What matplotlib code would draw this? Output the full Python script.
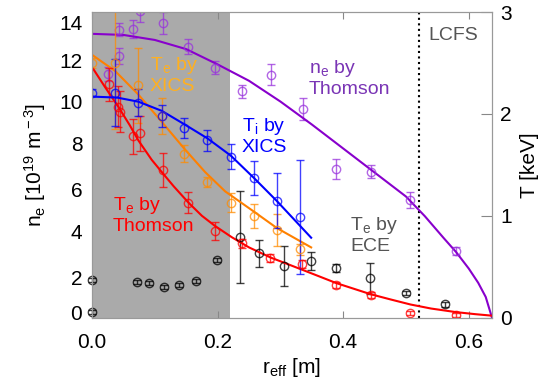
import matplotlib
matplotlib.use('Agg')
import matplotlib.pyplot as plt

plt.rcParams['font.family'] = ['Liberation Sans', 'DejaVu Sans']
plt.rcParams['mathtext.fontset'] = 'custom'
plt.rcParams['mathtext.rm'] = 'Liberation Sans'
plt.rcParams['mathtext.it'] = 'Liberation Sans:italic'

# ---- data ----
# n_e by Thomson [1e19 m^-3]
ne_r = [0.025, 0.0435, 0.0435, 0.066, 0.0765, 0.1137, 0.1535, 0.196,
        0.2395, 0.2853, 0.3358, 0.389, 0.444, 0.507, 0.58]
ne_val = [11.16, 11.98, 13.18, 13.22, 14.05, 13.48, 12.41, 11.45,
          10.36, 11.12, 9.55, 6.81, 6.69, 5.39, 3.05]
ne_err = [0.3, 0.35, 0.3, 0.4, 0.5, 0.5, 0.35, 0.3,
          0.3, 0.48, 0.5, 0.46, 0.3, 0.38, 0.2]
ne_fit_r = [0.0, 0.05, 0.1, 0.15, 0.2, 0.25, 0.3, 0.35, 0.4, 0.45,
            0.5, 0.53, 0.56, 0.58, 0.6, 0.615, 0.627, 0.637]
ne_fit = [13.0, 12.95, 12.72, 12.3, 11.6, 10.85, 9.9, 8.85, 7.75, 6.65,
          5.55, 4.65, 3.65, 3.0, 2.25, 1.6, 0.95, 0.0]

# T_e by Thomson [keV]
tet_r = [0.0276, 0.0419, 0.0446, 0.0659, 0.0765, 0.1137, 0.1535, 0.196,
         0.2385, 0.284, 0.335, 0.389, 0.444, 0.507, 0.58]
tet_val = [2.29, 2.07, 2.02, 1.78, 1.81, 1.45, 1.13, 0.854,
           0.73, 0.583, 0.527, 0.32, 0.223, 0.05, 0.027]
tet_err = [0.16, 0.2, 0.2, 0.17, 0.17, 0.17, 0.1, 0.09,
           0.045, 0.04, 0.04, 0.03, 0.03, 0.02, 0.02]
tet_fit_r = [0.0, 0.02, 0.0419, 0.06, 0.0738, 0.095, 0.1137, 0.13, 0.1535,
             0.175, 0.196, 0.2226, 0.25, 0.2847, 0.31, 0.3351, 0.36, 0.3889,
             0.4441, 0.475, 0.507, 0.54, 0.5796, 0.61, 0.637]
tet_fit = [2.46, 2.27, 2.07, 1.89, 1.74, 1.55, 1.41, 1.29, 1.13,
           1.0, 0.9, 0.79, 0.69, 0.59, 0.53, 0.47, 0.41, 0.34,
           0.23, 0.18, 0.13, 0.09, 0.055, 0.035, 0.02]

# T_e by XICS [keV]
tex_r = [0.0, 0.037, 0.0728, 0.111, 0.1466, 0.1838, 0.221, 0.258, 0.294, 0.3315]
tex_val = [2.50, 2.50, 2.28, 1.98, 1.61, 1.33, 1.13, 1.0, 0.86, 0.67]
tex_err = [0.05, 0.65, 0.37, 0.18, 0.08, 0.05, 0.09, 0.12, 0.16, 0.05]
tex_fit_r = [0.0, 0.037, 0.0738, 0.11, 0.1482, 0.18, 0.212, 0.2581, 0.2944, 0.349]
tex_fit = [2.58, 2.42, 2.19, 1.93, 1.65, 1.43, 1.24, 1.04, 0.88, 0.69]

# T_i by XICS [keV]
ti_r = [0.0, 0.0367, 0.0738, 0.111, 0.1466, 0.1838, 0.221, 0.258, 0.294, 0.3315]
ti_val = [2.21, 2.21, 2.11, 1.98, 1.86, 1.74, 1.58, 1.37, 1.15, 0.99]
ti_err = [0.03, 0.33, 0.13, 0.11, 0.1, 0.1, 0.12, 0.17, 0.27, 0.56]
ti_fit_r = [0.0, 0.04, 0.0738, 0.1111, 0.1466, 0.1838, 0.2211, 0.2581, 0.2944, 0.349]
ti_fit = [2.17, 2.16, 2.12, 2.03, 1.9, 1.76, 1.59, 1.37, 1.145, 0.785]

# T_e by ECE [keV]
ece_r = [0.0, 0.0, 0.072, 0.0913, 0.1154, 0.139, 0.165, 0.1997,
         0.235, 0.2667, 0.3065, 0.3485, 0.389, 0.442, 0.5, 0.5625]
ece_val = [0.37, 0.053, 0.35, 0.343, 0.304, 0.32, 0.36, 0.566,
           0.79, 0.632, 0.507, 0.556, 0.485, 0.387, 0.24, 0.13]
ece_err = [0.02, 0.02, 0.02, 0.02, 0.02, 0.02, 0.02, 0.02,
           0.45, 0.13, 0.2, 0.09, 0.04, 0.15, 0.02, 0.02]

r_xics = 0.22
r_lcfs = 0.52

# left-axis labels as they sit in the picture
ne_tick_pos = [0.26, 1.82, 3.94, 5.86, 8.0, 9.88, 11.76, 13.54]
ne_tick_lab = ['0', '2', '4', '6', '8', '10', '12', '14']

fig = plt.figure(figsize=(5.53, 3.81), dpi=100)
ax = fig.add_axes([0.1664, 0.1661, 0.7233, 0.8024])
ax2 = ax.twinx()

ax.axvspan(0, r_xics, color='#aaaaaa', lw=0, zorder=0)
ax.axvline(r_lcfs, color='black', ls=':', lw=1.5)

ebkw = dict(fmt='o', mfc='none', ms=6, capsize=3, elinewidth=1, mew=1, alpha=0.75)

ax.errorbar(ne_r, ne_val, yerr=ne_err, color='#9933dd', **ebkw)
ax.plot(ne_fit_r, ne_fit, color='#8800cc', lw=1.5)

ax2.errorbar(ece_r, ece_val, yerr=ece_err, color='black', clip_on=False, **ebkw)
ax2.errorbar(tex_r, tex_val, yerr=tex_err, color='#ff8c00', **ebkw)
ax2.plot(tex_fit_r, tex_fit, color='#ff8000', lw=1.5)
ax2.errorbar(tet_r, tet_val, yerr=tet_err, color='#ff0000', **ebkw)
ax2.plot(tet_fit_r, tet_fit, color='#ff0000', lw=1.5)
ax2.errorbar(ti_r, ti_val, yerr=ti_err, color='#0000ff', **ebkw)
ax2.plot(ti_fit_r, ti_fit, color='#0000ff', lw=1.5)

ax.set_xlim(0, 0.637)
ax.set_ylim(0, 14)
ax2.set_ylim(0, 3)

fs = 15
ax.set_xticks([0.0, 0.2, 0.4, 0.6])
ax.set_xticklabels(['0.0', '0.2', '0.4', '0.6'], fontsize=fs)
ax.set_yticks(ne_tick_pos)
ax.set_yticklabels(ne_tick_lab, fontsize=fs)
ax2.set_yticks([0, 1, 2, 3])
ax2.set_yticklabels(['0', '1', '2', '3'], fontsize=fs)

ax.tick_params(axis='x', direction='in', top=True, length=5, color='#888888', pad=11)
ax.tick_params(axis='y', length=0, pad=7)
ax2.tick_params(axis='y', direction='in', length=8, color='#888888', pad=6)
for a in (ax, ax2):
    for s in a.spines.values():
        s.set_color('#999999')

ax.set_xlabel(r'r$_{\rm eff}$ [m]', fontsize=fs, labelpad=3)
ax.set_ylabel(r'n$_{\rm e}$ [10$^{\rm 19}$ m$^{\rm -3}$]', fontsize=fs, labelpad=8)
ax2.set_ylabel('T [keV]', fontsize=fs, labelpad=6)

tk = dict(transform=ax.transAxes, fontsize=14, ha='left', va='top', linespacing=1.15)
ax.text(0.145, 0.86, 'T$_{\\rm e}$ by\nXICS', color='#ffb020', **tk)
ax.text(0.374, 0.66, 'T$_{\\rm i}$ by\nXICS', color='#0000ff', **tk)
ax.text(0.5425, 0.85, 'n$_{\\rm e}$ by\nThomson', color='#7a35b5', **tk)
ax.text(0.0525, 0.40, 'T$_{\\rm e}$ by\nThomson', color='#ff0000', **tk)
ax.text(0.645, 0.335, 'T$_{\\rm e}$ by\nECE', color='#555555', **tk)
ax.text(0.84, 0.95, 'LCFS', color='#555555', **tk)

fig.savefig('out.png', dpi=100)
